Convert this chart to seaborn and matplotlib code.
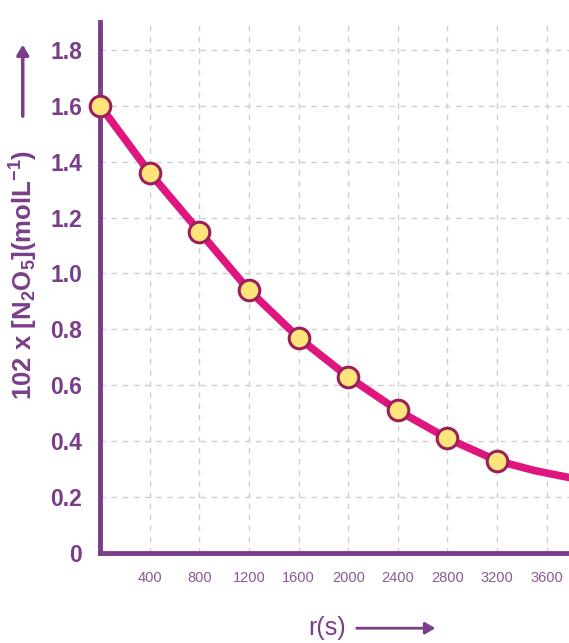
import matplotlib
matplotlib.use("Agg")
import matplotlib.pyplot as plt
import seaborn as sns
import pandas as pd

time_s = [0, 400, 800, 1200, 1600, 2000, 2400, 2800, 3200]
conc = [1.60, 1.36, 1.15, 0.94, 0.77, 0.63, 0.51, 0.41, 0.33]
curve_t = [0, 400, 800, 1200, 1600, 2000, 2400, 2800, 3200, 3500, 3780]
curve_c = [1.60, 1.36, 1.15, 0.94, 0.77, 0.63, 0.51, 0.41, 0.33, 0.295, 0.27]
x_ticks = [400, 800, 1200, 1600, 2000, 2400, 2800, 3200, 3600]
y_ticks = [0, 0.2, 0.4, 0.6, 0.8, 1.0, 1.2, 1.4, 1.6, 1.8]
y_tick_labels = ["0", "0.2", "0.4", "0.6", "0.8", "1.0", "1.2", "1.4", "1.6", "1.8"]

sns.set_theme(style="white")
plt.rcParams['font.family'] = ['Liberation Sans', 'DejaVu Sans']
plt.rcParams['mathtext.default'] = 'regular'

purple = "#7a3d8a"
magenta = "#e0167f"

fig = plt.figure(figsize=(5.69, 6.43), dpi=100)
ax = fig.add_axes([0.176, 0.14, 0.824, 0.826])

pts = pd.DataFrame({"t": time_s, "c": conc})
line = pd.DataFrame({"t": curve_t, "c": curve_c})

sns.lineplot(data=line, x="t", y="c", ax=ax, color=magenta, lw=5.5,
             zorder=3, clip_on=False)
sns.scatterplot(data=pts, x="t", y="c", ax=ax, s=220, color="#ffe47a",
                edgecolor="#9a1f5a", linewidth=2.2, zorder=4, clip_on=False)

ax.set_xlim(0, 3780)
ax.set_ylim(0, 1.9)
ax.set_xticks(x_ticks)
ax.set_xticklabels([str(v) for v in x_ticks], fontsize=10.5, color="#8a5a96")
ax.set_yticks(y_ticks)
ax.set_yticklabels(y_tick_labels, fontsize=16.5, color=purple, fontweight="bold")
ax.tick_params(axis="both", length=0)
ax.tick_params(axis="x", pad=13)
ax.tick_params(axis="y", pad=13)

ax.grid(True, color="#cfcfcf", linestyle=(0, (4, 4)), linewidth=1.0)
for s in ["top", "right"]:
    ax.spines[s].set_visible(False)
for s in ["left", "bottom"]:
    ax.spines[s].set_color(purple)
    ax.spines[s].set_linewidth(3.5)

ax.set_xlabel("")
ax.set_ylabel("")

fig.text(0.042, 0.572, r"102 x [N$_2$O$_5$](molL$^{-1}$)", rotation=90,
         ha="center", va="center", fontsize=18.5, color=purple, fontweight="bold")
fig.patches.append(matplotlib.patches.FancyArrowPatch(
    (0.04, 0.815), (0.04, 0.935), transform=fig.transFigure,
    arrowstyle="-|>,head_length=6,head_width=3.5", color=purple, lw=2.5))

fig.text(0.575, 0.005, "r(s)", ha="center", va="bottom", fontsize=18, color=purple)
fig.patches.append(matplotlib.patches.FancyArrowPatch(
    (0.622, 0.023), (0.77, 0.023), transform=fig.transFigure,
    arrowstyle="-|>,head_length=6,head_width=3.5", color=purple, lw=2))

fig.savefig("out.png", dpi=100)
